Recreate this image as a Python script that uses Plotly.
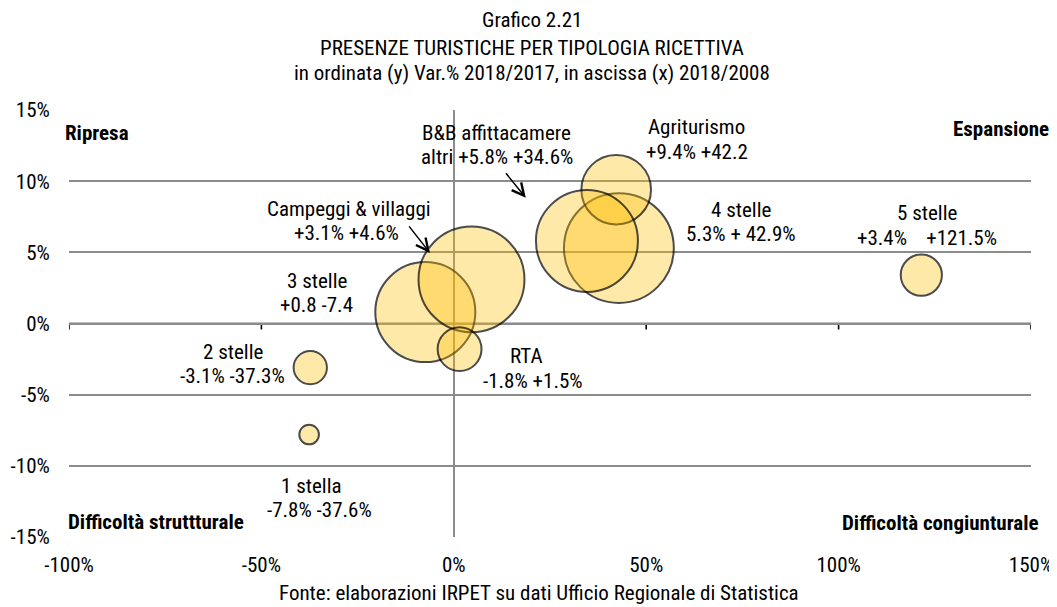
import plotly.graph_objects as go

# ---------------- data ----------------
categories = ["1 stella", "2 stelle", "3 stelle", "Campeggi & villaggi", "RTA",
              "4 stelle", "Agriturismo", "B&B affittacamere altri", "5 stelle"]
var_2018_2008 = [-37.6, -37.3, -7.4, 4.6, 1.5, 42.9, 42.2, 34.6, 121.5]   # x
var_2018_2017 = [-7.8, -3.1, 0.8, 3.1, -1.8, 5.3, 9.4, 5.8, 3.4]         # y
bubble_weight = [100, 289, 2601, 2916, 500, 3136, 1260, 2704, 441]       # relative volume (area)

label_line1 = ["1 stella", "2 stelle", "3 stelle", "Campeggi & villaggi", "RTA",
               "4 stelle", "Agriturismo", "B&B affittacamere", "5 stelle"]
label_line2 = ["-7.8% -37.6%", "-3.1% -37.3%", "+0.8 -7.4", "+3.1% +4.6%", "-1.8% +1.5%",
               "5.3% + 42.9%", "+9.4% +42.2", "altri +5.8% +34.6%", "+3.4%\u00a0\u00a0\u00a0 +121.5%"]
label1_x = [-36.9, -57.4, -35.6, -27.3, 19.0, 74.7, 63.1, 11.2, 123.0]
label1_y = [-11.4, -1.99, 3.02, 8.07, -2.27, 7.98, 13.79, 13.37, 7.74]
label2_x = [-34.8, -57.4, -35.6, -27.9, 20.5, 74.7, 63.1, 11.2, 123.0]
label2_y = [-13.08, -3.67, 1.29, 6.35, -4.02, 6.32, 12.06, 11.67, 6.02]

x_ticks = [-100, -50, 0, 50, 100, 150]
x_ticklabels = ["-100%", "-50%", "0%", "50%", "100%", "150%"]
y_ticks = [-15, -10, -5, 0, 5, 10, 15]
y_ticklabels = ["-15%", "-10%", "-5%", "0%", "5%", "10%", "15%"]

title_lines = ["Grafico 2.21",
               "PRESENZE TURISTICHE PER TIPOLOGIA RICETTIVA",
               "in ordinata (y) Var.% 2018/2017, in ascissa (x) 2018/2008"]
source = "Fonte: elaborazioni IRPET su dati Ufficio Regionale di Statistica"

FONT = "Liberation Sans Narrow, Arial Narrow, Roboto Condensed, DejaVu Sans Condensed, sans-serif"
FS = 21

# plot area geometry (figure pixels); page body adds 8px offset
W, H = 1057, 607
L, T = 61, 102
PW, PH = 962.5, 427.3
R = W - L - PW
B = H - T - PH
OFF = 8


def paper_xy(sx, sy):
    fx, fy = sx - OFF, sy - OFF
    return (fx - L) / PW, 1 - (fy - T) / PH


fig = go.Figure()
fig.add_trace(go.Scatter(
    x=var_2018_2008, y=var_2018_2017, mode="markers",
    text=categories, hoverinfo="text",
    marker=dict(size=bubble_weight, sizemode="area", sizeref=0.52,
                color="rgba(255,192,0,0.48)",
                line=dict(color="black", width=2)),
    showlegend=False, cliponaxis=False,
))

# x axis line at y=0 with tick marks
fig.add_shape(type="line", xref="x", yref="y", x0=x_ticks[0], x1=x_ticks[-1], y0=0, y1=0,
              line=dict(color="black", width=1.6), layer="below")
for xv in x_ticks:
    if xv == 0:
        continue
    fig.add_shape(type="line", xref="x", yref="y", ysizemode="pixel", yanchor=0,
                  x0=xv, x1=xv, y0=0, y1=-6, line=dict(color="black", width=1.6), layer="below")

# bubble labels (two lines each)
for t, lx, ly in list(zip(label_line1, label1_x, label1_y)) + list(zip(label_line2, label2_x, label2_y)):
    fig.add_annotation(x=lx, y=ly, xref="x", yref="y", text=t, showarrow=False,
                       yanchor="middle", xanchor="center",
                       font=dict(size=FS, color="black", family=FONT))

# arrows
fig.add_annotation(x=18.7, y=8.83, xref="x", yref="y", ax=-21, ay=-26, text="",
                   showarrow=True, arrowhead=5, arrowsize=1.6, arrowwidth=1.5, arrowcolor="black")
fig.add_annotation(x=-6.2, y=4.96, xref="x", yref="y", ax=-22, ay=-28, text="",
                   showarrow=True, arrowhead=5, arrowsize=1.6, arrowwidth=1.5, arrowcolor="black")

# quadrant labels
quad = [("Ripresa", -100, 13.38, "left", -6), ("Espansione", 150, 13.67, "right", 19.5),
        ("Difficoltà struttturale", -100, -13.92, "left", -3),
        ("Difficoltà congiunturale", 150, -13.99, "right", 10)]
for t, qx, qy, al, sh in quad:
    fig.add_annotation(x=qx, y=qy, xref="x", yref="y", text="<b>" + t + "</b>", showarrow=False,
                       xanchor=al, yanchor="middle", xshift=sh,
                       font=dict(size=FS, color="black", family=FONT))

# title lines and source (screen positions)
for t, sy in zip(title_lines, [19.5, 47.5, 73]):
    px, py = paper_xy(532.5, sy)
    fig.add_annotation(x=px, y=py, xref="paper", yref="paper", text=t,
                       showarrow=False, yanchor="middle", xanchor="center",
                       font=dict(size=FS, color="black", family=FONT))
px, py = paper_xy(539, 593)
fig.add_annotation(x=px, y=py, xref="paper", yref="paper", text=source,
                   showarrow=False, yanchor="middle", xanchor="center",
                   font=dict(size=FS, color="black", family=FONT))

fig.update_layout(
    width=W, height=H,
    margin=dict(l=L, r=R, t=T, b=B, autoexpand=False),
    paper_bgcolor="white", plot_bgcolor="white",
    font=dict(family=FONT, size=FS, color="black"),
    xaxis=dict(range=[-100, 150], tickvals=x_ticks, ticktext=x_ticklabels,
               showgrid=False, zeroline=True, zerolinecolor="#8c8c8c", zerolinewidth=1.6,
               showline=False, ticks="outside", ticklen=9, tickcolor="rgba(0,0,0,0)",
               tickfont=dict(size=FS, family=FONT, color="black")),
    yaxis=dict(range=[-15, 15], tickvals=y_ticks, ticktext=y_ticklabels,
               showgrid=True, gridcolor="#8c8c8c", gridwidth=1.6, zeroline=False,
               showline=False, ticks="outside", ticklen=14, tickcolor="rgba(0,0,0,0)",
               tickfont=dict(size=FS, family=FONT, color="black")),
)

fig.write_html("out.html")
